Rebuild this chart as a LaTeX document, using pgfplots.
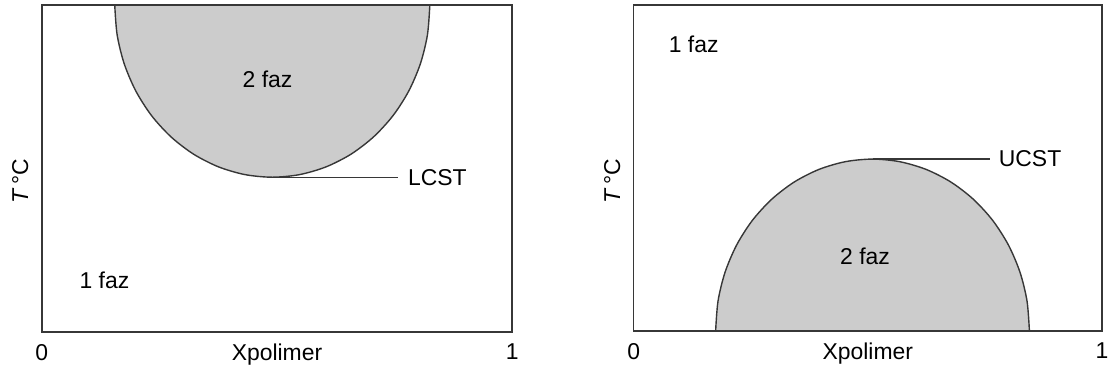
\documentclass[border=0pt]{standalone}
\usepackage{fontspec}
\setmainfont{Liberation Sans}
\usepackage{pgfplots}
\pgfplotsset{compat=1.18}
\definecolor{fillgray}{RGB}{204,204,204}
\definecolor{linegray}{RGB}{55,55,55}
\begin{document}
\begin{tikzpicture}
\path (0,0) rectangle (557.5pt,187pt);
\pgfplotsset{
  phase/.style={
    scale only axis,
    width=236pt, height=164pt,
    xmin=0, xmax=1, ymin=0, ymax=1,
    xtick={0,1}, ytick=\empty,
    major tick length=0pt,
    axis on top,
    axis line style={draw=linegray, line width=0.75pt},
    font=\fontsize{11.5}{13}\selectfont,
    xticklabel style={anchor=north, yshift=-2.7pt},
    /pgf/number format/assume math mode=true,
    xlabel={Xpolimer},
    ylabel={\textit{T}\,°C},
    every axis x label/.style={at={(axis description cs:0.5,0)}, anchor=north, yshift=-2.7pt},
    every axis y label/.style={at={([xshift=-3.2pt]axis description cs:0,0.46)}, rotate=90, anchor=south},
  }
}
% Left panel: LCST
\begin{axis}[phase, at={(21pt,20.5pt)}, anchor=south west]
\addplot[draw=linegray, line width=0.7pt, fill=fillgray, smooth] coordinates {
(0.825,1) (0.8199,0.9085) (0.8048,0.8198) (0.7801,0.7365) (0.7466,0.6612)
(0.7053,0.5963) (0.6575,0.5436) (0.6046,0.5048) (0.5482,0.4810) (0.49,0.473)
(0.4318,0.4810) (0.3754,0.5048) (0.3225,0.5436) (0.2747,0.5963) (0.2334,0.6612)
(0.1999,0.7365) (0.1752,0.8198) (0.1601,0.9085) (0.155,1)
} -- cycle;
\addplot[draw=linegray, line width=0.7pt] coordinates {(0.49,0.473) (0.758,0.473)};
\node[anchor=west, inner sep=0pt] at (axis cs:0.778,0.473) {LCST};
\node at (axis cs:0.48,0.774) {2 faz};
\node at (axis cs:0.133,0.159) {1 faz};
\end{axis}
% Right panel: UCST
\begin{axis}[phase, at={(318pt,21pt)}, anchor=south west, width=235pt, height=163.5pt]
\addplot[draw=linegray, line width=0.7pt, fill=fillgray, smooth] coordinates {
(0.845,0) (0.8399,0.0915) (0.8248,0.1802) (0.8001,0.2635) (0.7666,0.3388)
(0.7253,0.4037) (0.6775,0.4564) (0.6246,0.4952) (0.5682,0.5190) (0.51,0.527)
(0.4518,0.5190) (0.3954,0.4952) (0.3425,0.4564) (0.2947,0.4037) (0.2534,0.3388)
(0.2199,0.2635) (0.1952,0.1802) (0.1801,0.0915) (0.175,0)
} -- cycle;
\addplot[draw=linegray, line width=0.7pt] coordinates {(0.51,0.527) (0.76,0.527)};
\node[anchor=west, inner sep=0pt] at (axis cs:0.779,0.527) {UCST};
\node at (axis cs:0.494,0.229) {2 faz};
\node at (axis cs:0.128,0.878) {1 faz};
\end{axis}
\end{tikzpicture}
\end{document}
